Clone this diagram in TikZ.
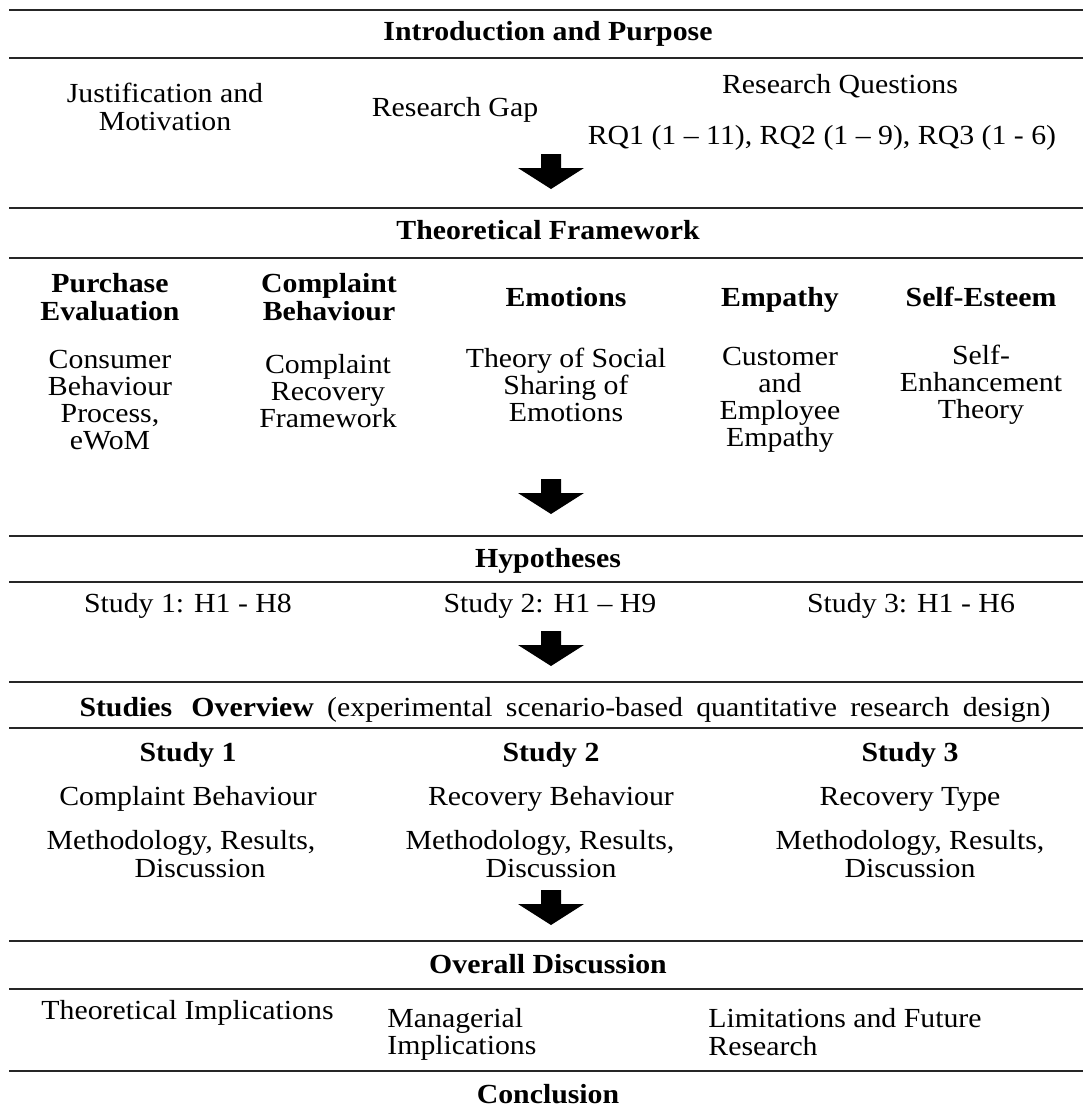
\documentclass[tikz,border=0pt]{standalone}
\usepackage{fontspec}
\setmainfont{Liberation Serif}[FakeStretch=1.08]
\begin{document}
\begin{tikzpicture}[x=0.5pt,y=-0.5pt,
  rule/.style={line width=1.1pt, black!85},
  txt/.style={inner sep=0pt, align=center, font=\fontsize{13.8}{13.6}\selectfont},
  head/.style={txt, font=\fontsize{13.8}{13.6}\selectfont\bfseries},
  downarrow/.pic={\fill[black] (-10,0) -- (10,0) -- (10,14) -- (33,14) -- (0,35)
                  -- (-33,14) -- (-10,14) -- cycle;}]
\useasboundingbox (0,0) rectangle (1083,1110);

% section rules
\foreach \y in {10,58,208,258,536,582,682,728,941,989,1071}
  \draw[rule] (9,\y) -- (1083,\y);

% block arrows between sections
\pic at (551,154) {downarrow};
\pic at (551,479) {downarrow};
\pic at (551,631) {downarrow};
\pic at (551,890) {downarrow};

% Introduction and Purpose
\node[head] (intro) at (548,34) {Introduction and Purpose};
\node[txt] (just) at (165,107) {Justification and\\Motivation};
\node[txt] (gap) at (455,110) {Research Gap};
\node[txt] (rq) at (840,86) {Research Questions};
\node[txt] (rqs) at (822,138) {RQ1 (1 -- 11), RQ2 (1 -- 9), RQ3 (1 - 6)};

% Theoretical Framework
\node[head] (theo) at (548,230) {Theoretical Framework};
\node[head] (h1) at (110,297) {Purchase\\Evaluation};
\node[head] (h2) at (329,297) {Complaint\\Behaviour};
\node[head] (h3) at (566,297) {Emotions};
\node[head] (h4) at (780,300) {Empathy};
\node[head] (h5) at (981,297) {Self-Esteem};
\node[txt] (b1) at (110,400) {Consumer\\Behaviour\\Process,\\eWoM};
\node[txt] (b2) at (328,391) {Complaint\\Recovery\\Framework};
\node[txt] (b3) at (566,385) {Theory of Social\\Sharing of\\Emotions};
\node[txt] (b4) at (780,400) {Customer\\and\\Employee\\Empathy};
\node[txt] (b5) at (981,385) {Self-\\Enhancement\\Theory};

% Hypotheses
\node[head] (hyp) at (548,561) {Hypotheses};
\node[txt] (hs1) at (188,606) {Study 1: H1 - H8};
\node[txt] (hs2) at (550,606) {Study 2: H1 -- H9};
\node[txt] (hs3) at (911,606) {Study 3: H1 - H6};

% Studies Overview
\node[txt] (over) at (565,710) {\makebox[485.5pt][s]{\textbf{Studies\hspace{3pt} Overview} (experimental scenario-based quantitative research design)}};
\node[head] (s1) at (188,755) {Study 1};
\node[head] (s2) at (551,755) {Study 2};
\node[head] (s3) at (910,755) {Study 3};
\node[txt] (t1) at (188,799) {Complaint Behaviour};
\node[txt] (t2) at (551,799) {Recovery Behaviour};
\node[txt] (t3) at (910,799) {Recovery Type};
\node[txt] (m1) at (200,854) {Methodology, Results,\hspace*{19pt}\\Discussion};
\node[txt] (m2) at (551,854) {Methodology, Results,\hspace*{11pt}\\Discussion};
\node[txt] (m3) at (910,854) {Methodology, Results,\\Discussion};

% Overall Discussion
\node[head] (disc) at (548,964) {Overall Discussion};
\node[txt, anchor=west] (d1) at (41,1013) {Theoretical Implications};
\node[txt, anchor=west, align=left] (d2) at (387,1034) {Managerial\\Implications};
\node[txt, anchor=west, align=left] (d3) at (708,1032) {Limitations and Future\\Research};

% Conclusion
\node[head] (concl) at (548,1094) {Conclusion};
\end{tikzpicture}
\end{document}
